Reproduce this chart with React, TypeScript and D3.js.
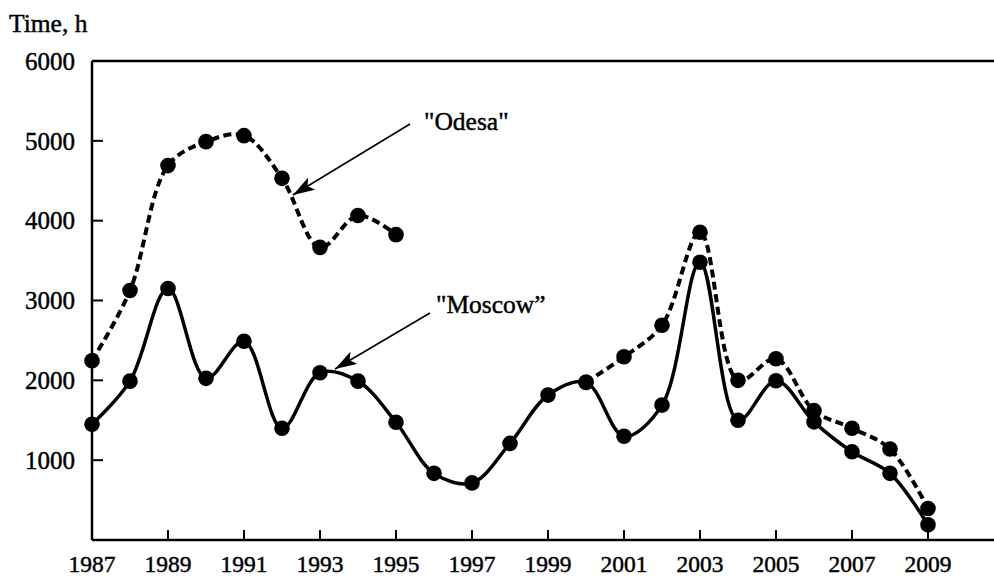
import * as d3 from "d3";

// years on the x axis
const years = d3.range(1987, 2010);

// "Moscow" series (solid line)
const moscow = [
  1450, 1990, 3150, 2025, 2490, 1400, 2095, 1990, 1475, 835, 715, 1210,
  1815, 1975, 1300, 1690, 3480, 1500, 1995, 1480, 1105, 835, 190,
];

// "Odesa" series (dashed line), gap 1996-1999
const odesa = [
  2245, 3125, 4690, 4990, 5065, 4530, 3665, 4065, 3825, null, null, null,
  null, 1975, 2295, 2690, 3855, 2000, 2270, 1620, 1400, 1140, 395,
];

const yTicks = [1000, 2000, 3000, 4000, 5000, 6000];
const xTickYears = [1987, 1989, 1991, 1993, 1995, 1997, 1999, 2001, 2003, 2005, 2007, 2009];

const W = 994;
const H = 576;
const left = 92;
const top = 61;
const bottom = 540;
const font = "'Liberation Serif', 'Times New Roman', serif";

export default function App() {
  const x = d3.scaleLinear().domain([1987, 2009]).range([left, 928]);
  const y = d3.scaleLinear().domain([0, 6000]).range([bottom, top]);

  const line = d3
    .line<[number, number | null]>()
    .defined((d) => d[1] !== null)
    .x((d) => x(d[0]))
    .y((d) => y(d[1] as number))
    .curve(d3.curveCatmullRom.alpha(0.5));

  const moscowPts: [number, number | null][] = years.map((yr, i) => [yr, moscow[i]]);
  const odesaPts: [number, number | null][] = years.map((yr, i) => [yr, odesa[i]]);

  const txt = { fontFamily: font, fill: "#000", stroke: "#000", strokeWidth: 0.45 };

  return (
    <svg
      width={W}
      height={H}
      style={{ position: "absolute", left: 0, top: 0, background: "#fff" }}
    >
      <defs>
        <marker
          id="arr"
          markerUnits="userSpaceOnUse"
          markerWidth="24"
          markerHeight="16"
          refX="22"
          refY="7"
          orient="auto"
        >
          <path d="M0,0 L22,7 L0,14 L5,7 Z" fill="#000" />
        </marker>
      </defs>

      {/* frame: top line, left axis, bottom axis */}
      <line x1={left} x2={W} y1={top} y2={top} stroke="#000" strokeWidth={2.5} />
      <line x1={left} x2={left} y1={top} y2={bottom} stroke="#000" strokeWidth={2.5} />
      <line x1={left} x2={W} y1={bottom} y2={bottom} stroke="#000" strokeWidth={2.5} />

      {/* y ticks */}
      {yTicks.map((t) => (
        <g key={t}>
          {t < 6000 && (
            <line x1={left} x2={left + 11} y1={y(t)} y2={y(t)} stroke="#000" strokeWidth={2} />
          )}
          <text x={75} y={y(t)} dy="0.35em" textAnchor="end" fontSize={25} {...txt}>
            {t}
          </text>
        </g>
      ))}

      {/* x ticks */}
      {xTickYears.map((yr) => (
        <g key={yr}>
          {yr > 1987 && (
            <line x1={x(yr)} x2={x(yr)} y1={bottom} y2={bottom - 10} stroke="#000" strokeWidth={2} />
          )}
          <text x={x(yr)} y={572} textAnchor="middle" fontSize={23.5} {...txt}>
            {yr}
          </text>
        </g>
      ))}

      <text x={9} y={32} fontSize={25.5} {...txt}>
        Time, h
      </text>

      {/* series */}
      <path
        d={line(odesaPts) || ""}
        fill="none"
        stroke="#000"
        strokeWidth={4}
        strokeDasharray="8 4.5"
      />
      <path d={line(moscowPts) || ""} fill="none" stroke="#000" strokeWidth={3.5} />

      {odesaPts
        .filter((d) => d[1] !== null)
        .map((d) => (
          <circle key={"o" + d[0]} cx={x(d[0])} cy={y(d[1] as number)} r={7.8} fill="#000" />
        ))}
      {moscowPts.map((d) => (
        <circle key={"m" + d[0]} cx={x(d[0])} cy={y(d[1] as number)} r={7.8} fill="#000" />
      ))}

      {/* annotations */}
      <line x1={410} y1={124} x2={293} y2={195} stroke="#000" strokeWidth={1.6} markerEnd="url(#arr)" />
      <text x={424} y={130} fontSize={25.5} {...txt}>
        "Odesa"
      </text>
      <line x1={430} y1={313} x2={335} y2={369} stroke="#000" strokeWidth={1.6} markerEnd="url(#arr)" />
      <text x={436} y={313} fontSize={25.5} {...txt}>
        "Moscow”
      </text>
    </svg>
  );
}
